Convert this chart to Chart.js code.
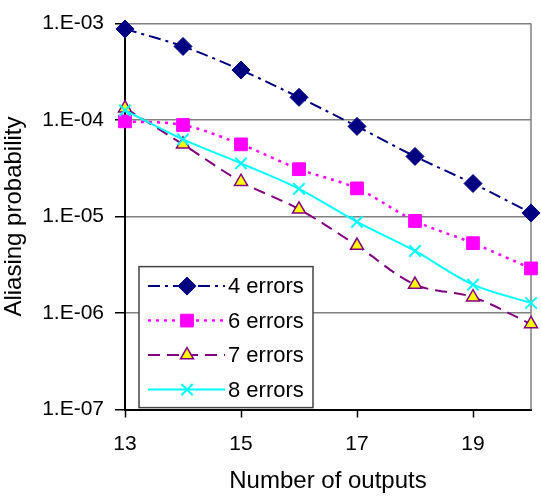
<!DOCTYPE html>
<html>
<head>
<meta charset="utf-8">
<script src="https://cdn.jsdelivr.net/npm/chart.js@4/dist/chart.umd.min.js"></script>
<style>
  html, body { margin: 0; padding: 0; background: #fff; }
  #wrap { width: 541px; height: 497px; position: relative; }
</style>
</head>
<body>
<div id="wrap"><canvas id="chart"></canvas></div>
<script>
// Valores
const xValues = [13, 14, 15, 16, 17, 18, 19, 20];
const errors4 = [8.8e-4, 5.8e-4, 3.3e-4, 1.72e-4, 8.6e-5, 4.2e-5, 2.2e-5, 1.09e-5];
const errors6 = [9.7e-5, 8.9e-5, 5.6e-5, 3.1e-5, 1.96e-5, 9.0e-6, 5.3e-6, 2.9e-6];
const errors7 = [1.33e-4, 5.6e-5, 2.3e-5, 1.19e-5, 5.0e-6, 1.97e-6, 1.46e-6, 7.7e-7];
const errors8 = [1.26e-4, 6.3e-5, 3.56e-5, 1.94e-5, 8.8e-6, 4.4e-6, 1.97e-6, 1.27e-6];

const seriesNames = ['4 errors', '6 errors', '7 errors', '8 errors'];
const xTickValues = [13, 15, 17, 19];
const yTickValues = [1e-7, 1e-6, 1e-5, 1e-4, 1e-3];
const yTickLabels = ['1.E-07', '1.E-06', '1.E-05', '1.E-04', '1.E-03'];

Chart.defaults.font.family = '"Liberation Sans", Arial, sans-serif';
Chart.defaults.color = '#000';

function toPoints(values) {
    return xValues.map((x, i) => ({ x: x, y: values[i] }));
}

// Leyenda dibujada a mano dentro del area del grafico
const boxLegend = {
    id: 'boxLegend',
    afterDraw(chart) {
        const ctx = chart.ctx;
        const area = chart.chartArea;
        const left = area.left + 14;
        const top = area.top + 243;
        const w = 174, h = 141;
        ctx.save();
        ctx.fillStyle = '#fff';
        ctx.fillRect(left, top, w, h);
        ctx.strokeStyle = '#444';
        ctx.lineWidth = 1.5;
        ctx.strokeRect(left, top, w, h);

        chart.data.datasets.forEach((ds, i) => {
            const y = top + 19.5 + i * 34.5;
            ctx.save();
            ctx.strokeStyle = ds.borderColor;
            ctx.lineWidth = ds.borderWidth;
            ctx.setLineDash(ds.borderDash || []);
            ctx.beginPath();
            ctx.moveTo(left + 9, y);
            ctx.lineTo(left + 86, y);
            ctx.stroke();
            ctx.restore();

            ctx.save();
            ctx.fillStyle = ds.pointBackgroundColor;
            ctx.strokeStyle = ds.pointBorderColor;
            ctx.lineWidth = ds.pointBorderWidth;
            Chart.helpers.drawPoint(ctx, { pointStyle: ds.pointStyle, radius: ds.pointRadius, rotation: 0, borderWidth: ds.pointBorderWidth }, left + 48, y);
            ctx.restore();

            ctx.fillStyle = '#000';
            ctx.font = '22px "Liberation Sans", Arial, sans-serif';
            ctx.textBaseline = 'middle';
            ctx.textAlign = 'left';
            ctx.fillText(seriesNames[i], left + 89, y + 1);
        });
        ctx.restore();
    }
};

// Borde derecho gris del area
const rightBorder = {
    id: 'rightBorder',
    beforeDatasetsDraw(chart) {
        const ctx = chart.ctx;
        const area = chart.chartArea;
        ctx.save();
        ctx.strokeStyle = '#808080';
        ctx.lineWidth = 1.5;
        ctx.beginPath();
        ctx.moveTo(area.right, area.top);
        ctx.lineTo(area.right, area.bottom);
        ctx.stroke();
        ctx.restore();
    }
};

const ctx = document.getElementById('chart').getContext('2d');
new Chart(ctx, {
    type: 'line',
    data: {
        datasets: [
            {
                label: seriesNames[0],
                data: toPoints(errors4),
                borderColor: '#000080',
                borderWidth: 2,
                borderDash: [12, 5, 3, 5],
                pointStyle: 'rectRot',
                pointRadius: 9,
                pointBackgroundColor: '#000080',
                pointBorderColor: '#000080',
                pointBorderWidth: 1,
                order: 4
            },
            {
                label: seriesNames[1],
                data: toPoints(errors6),
                borderColor: '#FF00FF',
                borderWidth: 2.5,
                borderDash: [3, 5],
                pointStyle: 'rect',
                pointRadius: 9,
                pointBackgroundColor: '#FF00FF',
                pointBorderColor: '#FF00FF',
                pointBorderWidth: 1,
                order: 3
            },
            {
                label: seriesNames[2],
                data: toPoints(errors7),
                borderColor: '#800080',
                borderWidth: 2,
                borderDash: [12, 7],
                pointStyle: 'triangle',
                pointRadius: 7.5,
                pointBackgroundColor: '#FFFF00',
                pointBorderColor: '#800080',
                pointBorderWidth: 1.5,
                order: 2
            },
            {
                label: seriesNames[3],
                data: toPoints(errors8),
                borderColor: '#00FFFF',
                borderWidth: 2,
                borderDash: [],
                pointStyle: 'crossRot',
                pointRadius: 8,
                pointBackgroundColor: '#00FFFF',
                pointBorderColor: '#00FFFF',
                pointBorderWidth: 2,
                order: 1
            }
        ]
    },
    options: {
        responsive: true,
        maintainAspectRatio: false,
        animation: false,
        events: [],
        elements: {
            line: { tension: 0.33, fill: false }
        },
        datasets: {
            line: { clip: false }
        },
        layout: {
            padding: { top: 19.5, right: 6, left: 0, bottom: 0 }
        },
        plugins: {
            legend: { display: false },
            tooltip: { enabled: false }
        },
        scales: {
            x: {
                type: 'linear',
                min: 13,
                max: 20,
                afterBuildTicks: (scale) => {
                    scale.ticks = xTickValues.map(v => ({ value: v }));
                },
                afterFit: (scale) => { scale.height = 87.5; },
                ticks: {
                    font: { size: 21 },
                    padding: 14,
                    maxRotation: 0,
                    autoSkip: false,
                    callback: (v) => String(v)
                },
                grid: {
                    drawOnChartArea: false,
                    tickLength: 8,
                    tickColor: '#000',
                    tickWidth: 1.5
                },
                border: { color: '#000', width: 2 },
                title: {
                    display: true,
                    text: 'Number of outputs',
                    font: { size: 24 },
                    padding: { top: 0, bottom: 1 }
                }
            },
            y: {
                type: 'logarithmic',
                min: 1e-7,
                max: 1e-3,
                afterBuildTicks: (scale) => {
                    scale.ticks = yTickValues.map(v => ({ value: v }));
                },
                afterFit: (scale) => { scale.width = 125; },
                ticks: {
                    font: { size: 21 },
                    padding: 11,
                    autoSkip: false,
                    callback: (v, i) => yTickLabels[i]
                },
                grid: {
                    color: '#808080',
                    lineWidth: 1.5,
                    tickLength: 10,
                    tickColor: '#000',
                    tickWidth: 1.5
                },
                border: { color: '#000', width: 2 },
                title: {
                    display: true,
                    text: 'Aliasing probability',
                    font: { size: 24 },
                    padding: { top: 0, bottom: 0 }
                }
            }
        }
    },
    plugins: [rightBorder, boxLegend]
});
</script>
</body>
</html>
